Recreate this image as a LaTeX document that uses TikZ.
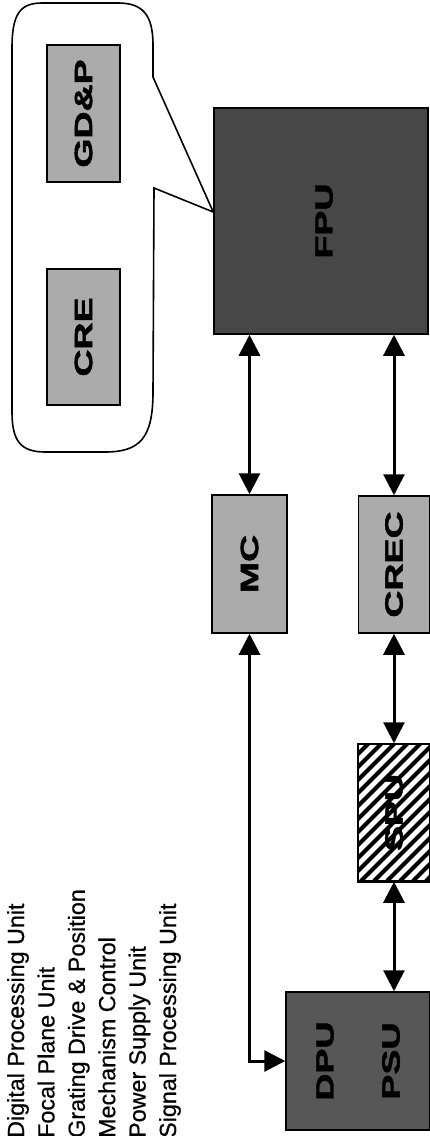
\documentclass[tikz,border=0pt]{standalone}
\usepackage{fontspec}
\setmainfont{Liberation Sans}
\newfontfamily\legfont[FakeBold=0.6]{Liberation Sans}
\newfontfamily\labfont[BoldFeatures={FakeBold=1.6}]{Liberation Sans}
\usepackage{graphicx}
\usetikzlibrary{arrows.meta}
\newcommand{\boxlab}[1]{\scalebox{1.5}[1]{#1}}
\definecolor{lightfill}{HTML}{ABABAB}
\definecolor{fpufill}{HTML}{474747}
\definecolor{dpufill}{HTML}{575757}
\begin{document}
\begin{tikzpicture}[x=1pt,y=-1pt,
  box/.style={draw=black, line width=1.5pt, inner sep=0pt, anchor=center},
  lightbox/.style={box, fill=lightfill},
  darkbox/.style={box, fill=fpufill},
  lab/.style={rotate=90, inner sep=0pt, font=\labfont\bfseries\fontsize{25}{30}\selectfont},
  legend/.style={rotate=90, anchor=base west, inner sep=0pt, font=\legfont\fontsize{23.3}{28}\selectfont},
  conn/.style={line width=3pt, {Triangle[width=21pt,length=21pt]}-{Triangle[width=21pt,length=21pt]}},
  bubble/.style={line width=1.6pt}
]
\useasboundingbox (0,0) rectangle (430,1136);

% boxes
\node[lightbox, minimum width=73pt, minimum height=137pt] (GDP) at (83.5,113.5) {};
\node[lightbox, minimum width=73pt, minimum height=136pt] (CRE) at (83.5,337) {};
\node[darkbox, minimum width=214pt, minimum height=226pt] (FPU) at (321,221) {};
\node[lightbox, minimum width=75pt, minimum height=138pt] (MC) at (249.5,564) {};
\node[lightbox, minimum width=71pt, minimum height=137pt] (CREC) at (394,564.5) {};
\node[box, fill=white, minimum width=72pt, minimum height=137pt] (SPU) at (394,812.5) {};
\node[box, fill=dpufill, minimum width=144pt, minimum height=138pt] (DPU) at (358,1061) {};

% hatching of SPU
\begin{scope}
  \clip (SPU.south west) rectangle (SPU.north east);
  \foreach \i in {0,...,19} {
    \draw[line width=4.2pt] (218+\i*13, 881) -- ++(145,-145);
  }
\end{scope}
\draw[line width=1.5pt] (SPU.south west) rectangle (SPU.north east);

% labels
\node[lab] (GDPt) at (GDP.center) {\boxlab{GD\&P}};
\node[lab] (CREt) at (CRE.center) {\boxlab{CRE}};
\node[lab] (FPUt) at ([xshift=3pt]FPU.center) {\boxlab{FPU}};
\node[lab] (MCt) at (MC.center) {\boxlab{MC}};
\node[lab] (CRECt) at (CREC.center) {\boxlab{CREC}};
\node[lab] (SPUt) at (SPU.center) {\boxlab{SPU}};
\node[lab] (DPUt) at ([xshift=-33pt]DPU.center) {\boxlab{DPU}};
\node[lab] (PSUt) at ([xshift=33pt]DPU.center) {\boxlab{PSU}};

% callout bubble
\coordinate (tip) at (FPU.west |- 0,212);
\draw[bubble] (tip) -- (154,188) -- (153,392)
  .. controls (153,438) and (140,452) .. (105,452) -- (45,452)
  .. controls (20,452) and (12,440) .. (12,412) -- (12,48)
  .. controls (12,14) and (20,3) .. (42,3) -- (118,3)
  .. controls (142,3) and (153,14) .. (153,45) -- (153,77) -- cycle;

% connectors
\draw[conn] (MC.north) -- (MC.north |- FPU.south);
\draw[conn] (CREC.north) -- (CREC.north |- FPU.south);
\draw[conn] (CREC.south) -- (SPU.north);
\draw[conn] (SPU.south) -- (SPU.south |- DPU.north);
\draw[conn] (MC.south) |- (DPU.west);

% legend
\node[legend] (l1) at (24,1138) {Digital Processing Unit};
\node[legend] (l2) at (54.4,1138) {Focal Plane Unit};
\node[legend] (l3) at (84.8,1138) {Grating Drive \& Position};
\node[legend] (l4) at (115.2,1138) {Mechanism Control};
\node[legend] (l5) at (145.6,1138) {Power Supply Unit};
\node[legend] (l6) at (176,1138) {Signal Processing Unit};
\end{tikzpicture}
\end{document}
